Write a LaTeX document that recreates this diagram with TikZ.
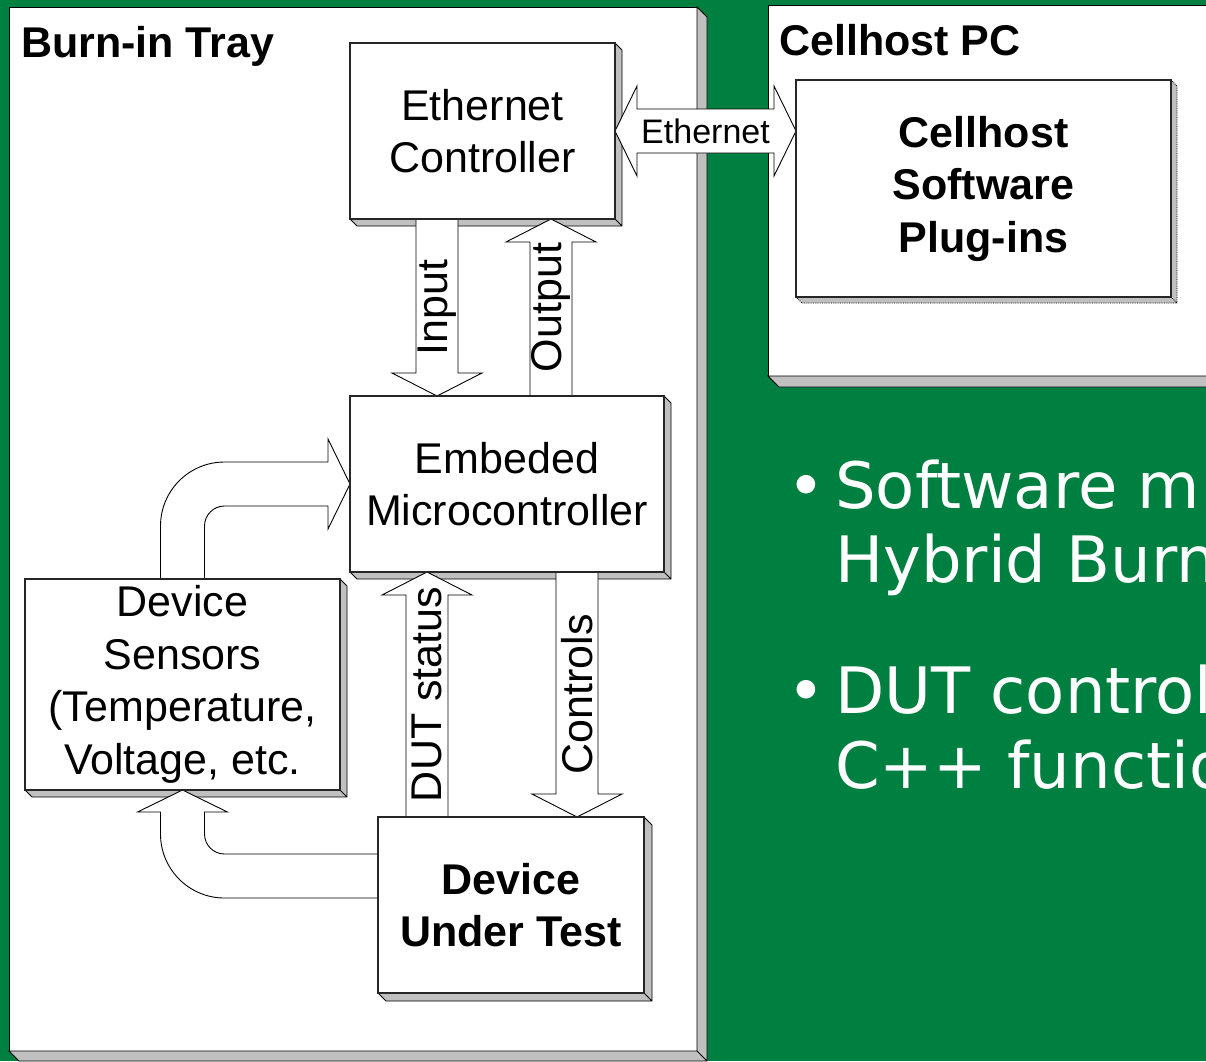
\documentclass[tikz,border=0pt]{standalone}
\usepackage{fontspec}
\setmainfont{Liberation Sans}
\newfontfamily\slidefont{DejaVu Sans}
\usetikzlibrary{calc}

\definecolor{slidegreen}{RGB}{0,128,64}
\definecolor{shadegray}{RGB}{192,192,192}

\newcommand\boxfont{\fontsize{43}{52.5}\selectfont}

% gray drop shadow right and below a node
\newcommand\boxshade[3][shadowfill]{%
  \filldraw[#1] (#2.north east) -- ++(#3,#3) -- ($(#2.south east)+(#3,#3)$)
    -- ($(#2.south west)+(#3,#3)$) -- (#2.south west) -- (#2.south east) -- cycle
    (#2.south east) -- ++(#3,#3);}

% straight block arrows
\newcommand\downblock[2]{%
  \draw[blockarr] let \p1=(#1), \p2=(#2) in
    (\x1-21pt,\y1) -- (\x1-21pt,\y2+23pt) -- (\x1-45pt,\y2+23pt) -- (\x2,\y2)
    -- (\x1+45pt,\y2+23pt) -- (\x1+21pt,\y2+23pt) -- (\x1+21pt,\y1);}
\newcommand\upblock[2]{%
  \draw[blockarr] let \p1=(#1), \p2=(#2) in
    (\x1-21pt,\y1) -- (\x1-21pt,\y2-23pt) -- (\x1-45pt,\y2-23pt) -- (\x2,\y2)
    -- (\x1+45pt,\y2-23pt) -- (\x1+21pt,\y2-23pt) -- (\x1+21pt,\y1);}

\tikzset{
  frame/.style={draw=black, fill=white, line width=0.8pt, inner sep=0pt, outer sep=0pt},
  blockbox/.style={fill=white, align=center, inner sep=0pt, outer sep=0pt, font=\boxfont},
  boxline/.style={draw=black!85, line width=1.3pt},
  shadowfill/.style={fill=shadegray, draw=black, line width=0.8pt, line join=miter},
  dotshadow/.style={fill=shadegray, draw=black, line width=0.8pt, densely dotted},
  blockarr/.style={draw=black, fill=white, line width=0.9pt, line join=miter},
  titletext/.style={anchor=base west, inner sep=0pt, font=\fontsize{43}{50}\selectfont\bfseries},
  arrowtext/.style={inner sep=0pt, font=\boxfont},
  bullettext/.style={anchor=base west, inner sep=0pt, text=white,
    font=\slidefont\fontsize{64}{74.5}\selectfont},
}

\begin{document}
\begin{tikzpicture}[x=1pt, y=-1pt]
  \useasboundingbox (0,0) rectangle (1206,1061);
  \clip (0,0) rectangle (1206,1061);
  \fill[slidegreen] (0,0) rectangle (1206,1061);

  % frames
  \node[frame, minimum width=688pt, minimum height=1044pt] (tray) at (353,529) {};
  \node[frame, minimum width=470pt, minimum height=371pt] (host) at (1003,190.5) {};
  \boxshade{tray}{10}
  \boxshade{host}{11}

  % boxes
  \node[blockbox, minimum width=265pt, minimum height=176pt] (ctrl) at (482.5,131) {Ethernet\\Controller};
  \node[blockbox, minimum width=314pt, minimum height=176pt] (micro) at (507,484) {Embeded\\Microcontroller};
  \node[blockbox, minimum width=315pt, minimum height=211pt] (sens) at (182.5,684.5) {Device\\Sensors\\(Temperature,\\Voltage, etc.};
  \node[blockbox, minimum width=266pt, minimum height=176pt, font=\boxfont\bfseries] (dut) at (511,905) {Device\\Under Test};
  \node[blockbox, minimum width=375pt, minimum height=217pt, font=\boxfont\bfseries] (soft) at (983.5,188.5) {Cellhost\\Software\\Plug-ins};

  \boxshade{ctrl}{7}
  \boxshade{micro}{7}
  \boxshade{sens}{7}
  \boxshade{dut}{8}
  \boxshade[dotshadow]{soft}{6}

  % arrows
  \coordinate (inx) at ($(ctrl.south west)+(87,0)$);
  \coordinate (outx) at ($(micro.north west)+(201,0)$);
  \coordinate (dutx) at ($(dut.north west)+(49,0)$);
  \coordinate (conx) at ($(micro.south west)+(227,0)$);
  \coordinate (dutout) at ($(dut.west)+(0,-29)$);

  \downblock{inx}{inx |- micro.north}
  \upblock{outx}{outx |- ctrl.south}
  \upblock{dutx}{dutx |- micro.south}
  \downblock{conx}{conx |- dut.north}

  \draw[blockarr] let \p1=(ctrl.east), \p2=(ctrl.east -| soft.west) in
    (\x1,\y1) -- (\x1+22pt,\y1+45pt) -- (\x1+22pt,\y1+22pt) -- (\x2-22pt,\y1+22pt)
    -- (\x2-22pt,\y1+45pt) -- (\x2,\y2) -- (\x2-22pt,\y1-45pt) -- (\x2-22pt,\y1-22pt)
    -- (\x1+22pt,\y1-22pt) -- (\x1+22pt,\y1-45pt) -- cycle;

  \draw[blockarr] let \p1=(sens.north), \p2=(micro.west) in
    (\x1-22pt,\y1) -- (\x1-22pt,\y2+22pt-64pt) arc[start angle=180, end angle=90, radius=64pt]
    -- (\x2-22pt,\y2+22pt) -- (\x2-22pt,\y2+45pt) -- (\x2,\y2) -- (\x2-22pt,\y2-45pt)
    -- (\x2-22pt,\y2-22pt) -- (\x1+42pt,\y2-22pt) arc[start angle=90, end angle=180, radius=20pt]
    -- (\x1+22pt,\y1);

  \draw[blockarr] let \p1=(dutout), \p2=(sens.south) in
    (\x1,\y1+22pt) -- (\x2+42pt,\y1+22pt) arc[start angle=270, end angle=180, radius=20pt]
    -- (\x2+22pt,\y2-22pt) -- (\x2+45pt,\y2-22pt) -- (\x2,\y2) -- (\x2-45pt,\y2-22pt)
    -- (\x2-22pt,\y2-22pt) -- (\x2-22pt,\y1-22pt+64pt) arc[start angle=180, end angle=270, radius=64pt]
    -- (\x1,\y1-22pt);

  % borders on top
  \foreach \b in {ctrl,micro,sens,dut,soft}
    \draw[boxline] (\b.south west) rectangle (\b.north east);

  % labels
  \node[arrowtext, font=\fontsize{34}{40}\selectfont] (ethlbl) at ($(ctrl.east)!0.5!(ctrl.east -| soft.west)$) {Ethernet};
  \node[arrowtext, rotate=90] (inlbl) at ($(inx)!0.5!(inx |- micro.north)$) {Input};
  \node[arrowtext, rotate=90] (outlbl) at ($(outx)!0.5!(outx |- ctrl.south)$) {Output};
  \node[arrowtext, rotate=90] (dutlbl) at ($(dutx)!0.5!(dutx |- micro.south)$) {DUT status};
  \node[arrowtext, rotate=90] (conlbl) at ($(conx)!0.5!(conx |- dut.north)$) {Controls};

  \node[titletext] (traytitle) at (21,57) {Burn-in Tray};
  \node[titletext] (hosttitle) at (779,55) {Cellhost PC};

  % bullets
  \node[bullettext] (dot1) at (787,508) {•};
  \node[bullettext] (line1a) at (835,508) {Software m};
  \node[bullettext] (line1b) at (835,582.5) {Hybrid Burn};
  \node[bullettext] (dot2) at (787,713) {•};
  \node[bullettext] (line2a) at (835,713) {DUT control};
  \node[bullettext] (line2b) at (835,788) {C++ functio};
\end{tikzpicture}
\end{document}
